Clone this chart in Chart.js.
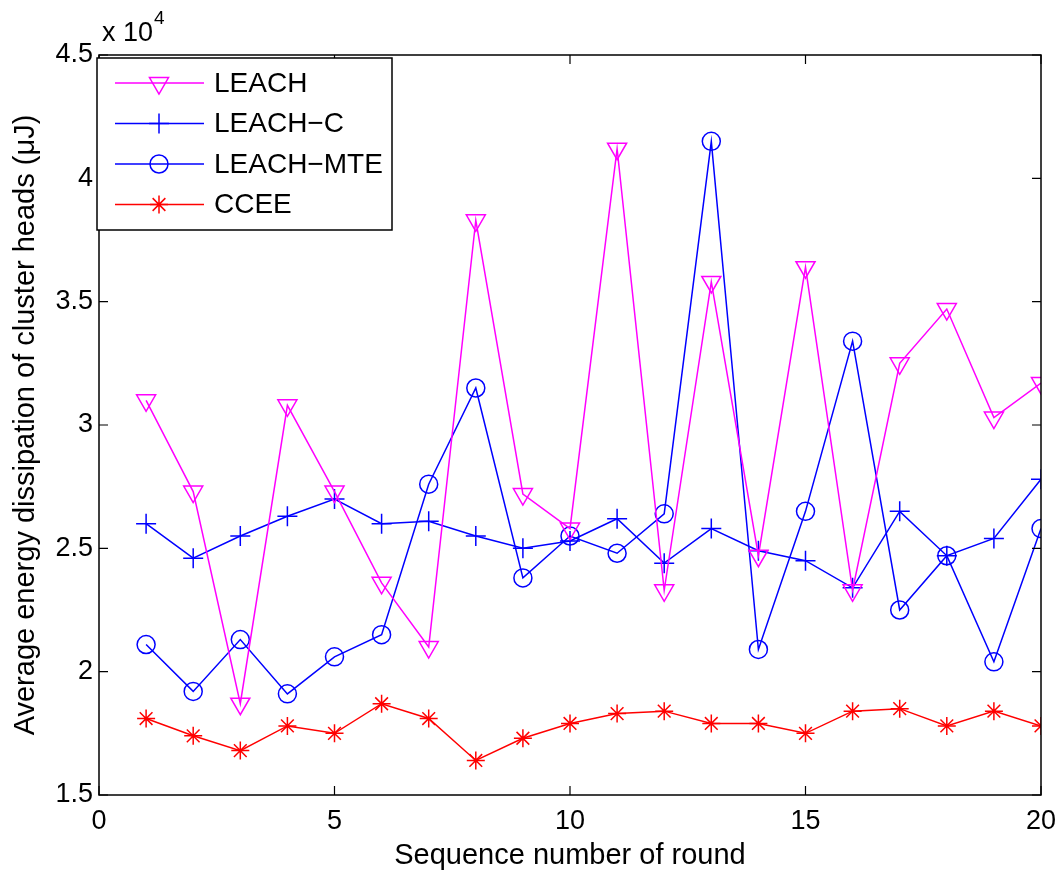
<!DOCTYPE html>
<html>
<head>
<meta charset="utf-8">
<script src="https://cdn.jsdelivr.net/npm/chart.js@4.4.1/dist/chart.umd.min.js"></script>
<style>
  html, body { margin: 0; padding: 0; background: #fff; }
  #wrap { width: 1062px; height: 873px; position: relative; }
</style>
</head>
<body>
<div id="wrap"><canvas id="c" width="1062" height="873"></canvas></div>
<script>
// ---- Data (values in units of 10^4 µJ) ----
const rounds = [1, 2, 3, 4, 5, 6, 7, 8, 9, 10, 11, 12, 13, 14, 15, 16, 17, 18, 19, 20];
const seriesNames = ['LEACH', 'LEACH\u2212C', 'LEACH\u2212MTE', 'CCEE'];
const leach    = [3.10, 2.73, 1.87, 3.08, 2.73, 2.36, 2.10, 3.83, 2.72, 2.58, 4.12, 2.33, 3.58, 2.47, 3.64, 2.33, 3.25, 3.47, 3.03, 3.17];
const leachC   = [2.60, 2.46, 2.55, 2.63, 2.70, 2.60, 2.61, 2.55, 2.50, 2.53, 2.62, 2.44, 2.58, 2.49, 2.45, 2.34, 2.65, 2.47, 2.54, 2.78];
const leachMTE = [2.11, 1.92, 2.13, 1.91, 2.06, 2.15, 2.76, 3.15, 2.38, 2.55, 2.48, 2.64, 4.15, 2.09, 2.65, 3.34, 2.25, 2.47, 2.04, 2.58];
const ccee     = [1.81, 1.74, 1.68, 1.78, 1.75, 1.87, 1.81, 1.64, 1.73, 1.79, 1.83, 1.84, 1.79, 1.79, 1.75, 1.84, 1.85, 1.78, 1.84, 1.78];
const xTicks = [0, 5, 10, 15, 20];
const yTicks = [1.5, 2, 2.5, 3, 3.5, 4, 4.5];
const xTitle = 'Sequence number of round';
const yTitle = 'Average energy dissipation of cluster heads (\u03bcJ)';

const FONT = '"Liberation Sans", Arial, Helvetica, sans-serif';
const MAGENTA = '#ff00ff', BLUE = '#0000ff', RED = '#ff0000';

function mk(label, vals, color, style, radius, rot) {
  return {
    label, data: rounds.map((r, i) => ({ x: r, y: vals[i] })),
    borderColor: color, backgroundColor: 'rgba(0,0,0,0)',
    borderWidth: 1.5, pointStyle: style, pointRadius: radius,
    pointRotation: rot || 0, pointBorderColor: color,
    pointBackgroundColor: 'rgba(0,0,0,0)', pointBorderWidth: 1.5,
    pointHoverRadius: radius, tension: 0, fill: false
  };
}

const datasets = [
  mk(seriesNames[0], leach, MAGENTA, 'triangle', 11, 180),
  mk(seriesNames[1], leachC, BLUE, 'cross', 10),
  mk(seriesNames[2], leachMTE, BLUE, 'circle', 9),
  mk(seriesNames[3], ccee, RED, 'star', 9)
];

const frame = {
  id: 'frame',
  afterDraw(chart) {
    const ctx = chart.ctx, a = chart.chartArea;
    const xs = chart.scales.x, ys = chart.scales.y;
    ctx.save();
    ctx.strokeStyle = '#000';
    ctx.lineWidth = 1.5;
    ctx.strokeRect(a.left, a.top, a.right - a.left, a.bottom - a.top);
    const TL = 9;
    ctx.lineWidth = 1.2;
    ctx.beginPath();
    xTicks.forEach(v => {
      const px = xs.getPixelForValue(v);
      ctx.moveTo(px, a.bottom); ctx.lineTo(px, a.bottom - TL);
      ctx.moveTo(px, a.top); ctx.lineTo(px, a.top + TL);
    });
    yTicks.forEach(v => {
      const py = ys.getPixelForValue(v);
      ctx.moveTo(a.left, py); ctx.lineTo(a.left + TL, py);
      ctx.moveTo(a.right, py); ctx.lineTo(a.right - TL, py);
    });
    ctx.stroke();

    // exponent label
    ctx.fillStyle = '#000';
    ctx.textBaseline = 'alphabetic';
    ctx.textAlign = 'left';
    ctx.font = '27px ' + FONT;
    ctx.fillText('x 10', a.left + 3, a.top - 14);
    const w = ctx.measureText('x 10').width;
    ctx.font = '19px ' + FONT;
    ctx.fillText('4', a.left + 3 + w + 1, a.top - 31);

    // legend
    const lx = 97, ly = 58, lw = 295, lh = 172;
    ctx.fillStyle = '#fff';
    ctx.fillRect(lx, ly, lw, lh);
    ctx.strokeStyle = '#000';
    ctx.lineWidth = 1.5;
    ctx.strokeRect(lx, ly, lw, lh);
    chart.data.datasets.forEach((ds, i) => {
      const y = 83 + i * 40.5;
      ctx.strokeStyle = ds.borderColor;
      ctx.lineWidth = ds.borderWidth;
      ctx.beginPath();
      ctx.moveTo(115, y); ctx.lineTo(204, y);
      ctx.stroke();
      ctx.lineWidth = ds.pointBorderWidth;
      ctx.strokeStyle = ds.pointBorderColor;
      ctx.fillStyle = ds.pointBackgroundColor;
      if (Chart.helpers && Chart.helpers.drawPoint) {
        Chart.helpers.drawPoint(ctx, { pointStyle: ds.pointStyle, rotation: ds.pointRotation, radius: ds.pointRadius, borderWidth: ds.pointBorderWidth }, 159, y);
      }
      ctx.fillStyle = '#000';
      ctx.font = '28px ' + FONT;
      ctx.textBaseline = 'middle';
      ctx.textAlign = 'left';
      ctx.fillText(ds.label, 214, y + 1);
    });
    ctx.restore();
  }
};

new Chart(document.getElementById('c'), {
  type: 'line',
  data: { datasets },
  options: {
    responsive: false,
    animation: false,
    devicePixelRatio: 1,
    layout: { padding: { top: 55, right: 21, left: 0, bottom: 0 } },
    plugins: { legend: { display: false }, tooltip: { enabled: false } },
    scales: {
      x: {
        type: 'linear', min: 0, max: 20,
        afterBuildTicks(s) { s.ticks = xTicks.map(v => ({ value: v })); },
        afterFit(s) { s.height = 873 - 795; s.paddingLeft = 0; s.paddingRight = 0; },
        grid: { display: false, drawTicks: false },
        border: { display: false },
        ticks: { color: '#000', font: { family: FONT, size: 27 }, padding: 10, maxRotation: 0, callback: v => String(v) },
        title: { display: true, text: xTitle, color: '#000', font: { family: FONT, size: 29 }, padding: { top: 0, bottom: 0 } }
      },
      y: {
        type: 'linear', min: 1.5, max: 4.5,
        afterBuildTicks(s) { s.ticks = yTicks.map(v => ({ value: v })); },
        afterFit(s) { s.width = 99; s.paddingTop = 0; s.paddingBottom = 0; },
        grid: { display: false, drawTicks: false },
        border: { display: false },
        ticks: { color: '#000', font: { family: FONT, size: 27 }, padding: 6, callback: v => String(v) },
        title: { display: true, text: yTitle, color: '#000', font: { family: FONT, size: 29 }, padding: { top: 9, bottom: 0 } }
      }
    }
  },
  plugins: [frame]
});
</script>
</body>
</html>
